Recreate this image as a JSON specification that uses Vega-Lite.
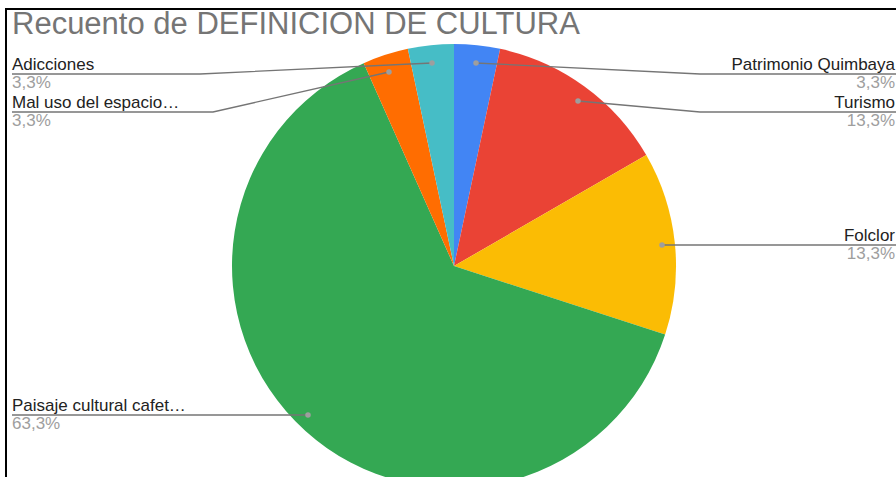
{
  "$schema": "https://vega.github.io/schema/vega-lite/v6.json",
  "width": 900,
  "height": 480,
  "padding": {"left": 6, "top": 9, "right": 0, "bottom": 0},
  "background": "white",
  "title": {
    "text": "Recuento de DEFINICION DE CULTURA",
    "anchor": "start",
    "frame": "group",
    "orient": "top",
    "offset": -32,
    "dx": 6,
    "font": "Liberation Sans",
    "fontSize": 31,
    "fontWeight": "normal",
    "color": "#757575"
  },
  "config": {
    "view": {"stroke": "#000000", "strokeWidth": 2},
    "font": "Liberation Sans"
  },
  "datasets": {
    "slices": [
      {"cat": "Patrimonio Quimbaya", "label": "Patrimonio Quimbaya", "count": 1, "ord": 1, "pct": "3,3%", "side": "right", "ly": 74},
      {"cat": "Turismo", "label": "Turismo", "count": 4, "ord": 2, "pct": "13,3%", "side": "right", "ly": 112},
      {"cat": "Folclor", "label": "Folclor", "count": 4, "ord": 3, "pct": "13,3%", "side": "right", "ly": 245},
      {"cat": "Paisaje cultural cafetero", "label": "Paisaje cultural cafet…", "count": 19, "ord": 4, "pct": "63,3%", "side": "left", "ly": 415},
      {"cat": "Mal uso del espacio", "label": "Mal uso del espacio…", "count": 1, "ord": 5, "pct": "3,3%", "side": "left", "ly": 112},
      {"cat": "Adicciones", "label": "Adicciones", "count": 1, "ord": 6, "pct": "3,3%", "side": "left", "ly": 74}
    ],
    "leaders": [
      {"cat": "Patrimonio Quimbaya", "seq": 0, "x": 476, "y": 63},
      {"cat": "Patrimonio Quimbaya", "seq": 1, "x": 700, "y": 74},
      {"cat": "Patrimonio Quimbaya", "seq": 2, "x": 896, "y": 74},
      {"cat": "Turismo", "seq": 0, "x": 578, "y": 101},
      {"cat": "Turismo", "seq": 1, "x": 700, "y": 112},
      {"cat": "Turismo", "seq": 2, "x": 896, "y": 112},
      {"cat": "Folclor", "seq": 0, "x": 662, "y": 245},
      {"cat": "Folclor", "seq": 1, "x": 896, "y": 245},
      {"cat": "Paisaje cultural cafetero", "seq": 0, "x": 308, "y": 415},
      {"cat": "Paisaje cultural cafetero", "seq": 1, "x": 12, "y": 415},
      {"cat": "Mal uso del espacio", "seq": 0, "x": 389, "y": 72},
      {"cat": "Mal uso del espacio", "seq": 1, "x": 213, "y": 112},
      {"cat": "Mal uso del espacio", "seq": 2, "x": 12, "y": 112},
      {"cat": "Adicciones", "seq": 0, "x": 432, "y": 63},
      {"cat": "Adicciones", "seq": 1, "x": 200, "y": 74},
      {"cat": "Adicciones", "seq": 2, "x": 12, "y": 74}
    ]
  },
  "layer": [
    {
      "data": {"name": "slices"},
      "mark": {"type": "arc", "outerRadius": 222},
      "encoding": {
        "x": {"datum": 454, "type": "quantitative", "scale": {"domain": [6, 906], "zero": false, "nice": false}, "axis": null},
        "y": {"datum": 266, "type": "quantitative", "scale": {"domain": [9, 489], "zero": false, "nice": false, "reverse": true}, "axis": null},
        "theta": {"field": "count", "type": "quantitative", "stack": true},
        "order": {"field": "ord", "type": "quantitative"},
        "color": {
          "field": "cat",
          "type": "nominal",
          "scale": {
            "domain": ["Patrimonio Quimbaya", "Turismo", "Folclor", "Paisaje cultural cafetero", "Mal uso del espacio", "Adicciones"],
            "range": ["#4285F4", "#EA4335", "#FBBC04", "#34A853", "#FF6D01", "#46BDC6"]
          },
          "legend": null
        }
      }
    },
    {
      "data": {"name": "leaders"},
      "mark": {"type": "line", "color": "#757575", "strokeWidth": 1.3},
      "encoding": {
        "x": {"field": "x", "type": "quantitative", "scale": {"domain": [6, 906], "zero": false, "nice": false}, "axis": null},
        "y": {"field": "y", "type": "quantitative", "scale": {"domain": [9, 489], "zero": false, "nice": false, "reverse": true}, "axis": null},
        "detail": {"field": "cat"},
        "order": {"field": "seq", "type": "quantitative"}
      }
    },
    {
      "data": {"name": "leaders"},
      "transform": [{"filter": "datum.seq == 0"}],
      "mark": {"type": "point", "filled": true, "color": "#9e9e9e", "opacity": 1, "size": 30},
      "encoding": {
        "x": {"field": "x", "type": "quantitative", "scale": {"domain": [6, 906], "zero": false, "nice": false}, "axis": null},
        "y": {"field": "y", "type": "quantitative", "scale": {"domain": [9, 489], "zero": false, "nice": false, "reverse": true}, "axis": null}
      }
    },
    {
      "data": {"name": "slices"},
      "transform": [{"filter": "datum.side == 'left'"}],
      "mark": {"type": "text", "align": "left", "baseline": "alphabetic", "dy": -4, "fontSize": 17, "color": "#222222"},
      "encoding": {
        "x": {"datum": 12, "type": "quantitative", "scale": {"domain": [6, 906], "zero": false, "nice": false}, "axis": null},
        "y": {"field": "ly", "type": "quantitative", "scale": {"domain": [9, 489], "zero": false, "nice": false, "reverse": true}, "axis": null},
        "text": {"field": "label"}
      }
    },
    {
      "data": {"name": "slices"},
      "transform": [{"filter": "datum.side == 'left'"}],
      "mark": {"type": "text", "align": "left", "baseline": "alphabetic", "dy": 14, "fontSize": 17, "color": "#9e9e9e"},
      "encoding": {
        "x": {"datum": 12, "type": "quantitative", "scale": {"domain": [6, 906], "zero": false, "nice": false}, "axis": null},
        "y": {"field": "ly", "type": "quantitative", "scale": {"domain": [9, 489], "zero": false, "nice": false, "reverse": true}, "axis": null},
        "text": {"field": "pct"}
      }
    },
    {
      "data": {"name": "slices"},
      "transform": [{"filter": "datum.side == 'right'"}],
      "mark": {"type": "text", "align": "right", "baseline": "alphabetic", "dy": -4, "fontSize": 17, "color": "#222222"},
      "encoding": {
        "x": {"datum": 895, "type": "quantitative", "scale": {"domain": [6, 906], "zero": false, "nice": false}, "axis": null},
        "y": {"field": "ly", "type": "quantitative", "scale": {"domain": [9, 489], "zero": false, "nice": false, "reverse": true}, "axis": null},
        "text": {"field": "label"}
      }
    },
    {
      "data": {"name": "slices"},
      "transform": [{"filter": "datum.side == 'right'"}],
      "mark": {"type": "text", "align": "right", "baseline": "alphabetic", "dy": 14, "fontSize": 17, "color": "#9e9e9e"},
      "encoding": {
        "x": {"datum": 895, "type": "quantitative", "scale": {"domain": [6, 906], "zero": false, "nice": false}, "axis": null},
        "y": {"field": "ly", "type": "quantitative", "scale": {"domain": [9, 489], "zero": false, "nice": false, "reverse": true}, "axis": null},
        "text": {"field": "pct"}
      }
    }
  ]
}
